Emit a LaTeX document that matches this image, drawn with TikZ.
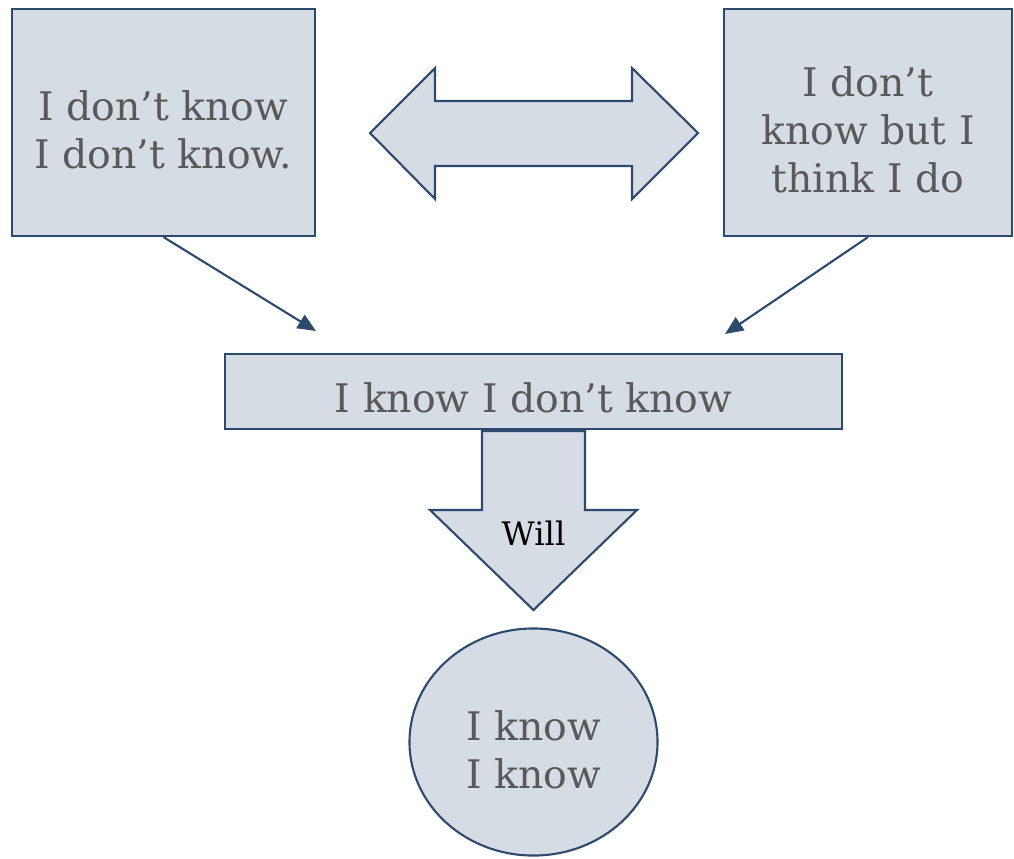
\documentclass[tikz,border=0pt]{standalone}
\usepackage{fontspec}
\setmainfont{DejaVu Serif}
\usepackage{tikz}
\usetikzlibrary{arrows.meta,shapes,positioning}
\usepackage{xcolor}
\definecolor{kbfill}{HTML}{D6DCE4}
\definecolor{kbline}{HTML}{2C4A6E}
\definecolor{kbtext}{HTML}{595959}
\tikzstyle{stagebox} = [rectangle, draw=kbline, fill=kbfill, line width=1.5pt]
\tikzstyle{stagetext} = [text=kbtext, align=center, font=\fontsize{28}{34}\selectfont]
\tikzstyle{blockarrow} = [draw=kbline, fill=kbfill, line width=1.5pt, line join=miter]
\tikzstyle{arrow} = [line width=1.5pt, color=kbline, -{Triangle[length=13pt, width=11pt]}]

\begin{document}
\begin{tikzpicture}[x=0.025cm, y=-0.025cm]
    \useasboundingbox (0,0) rectangle (1014,858);

    % Unconscious incompetence
    \node[stagebox, minimum width=7.575cm, minimum height=5.675cm] (unaware) at (163.5, 122.5) {};
    \node[stagetext] (unawaretext) at (163.5, 130) {I don’t know\\I don’t know.};

    % Overconfident
    \node[stagebox, minimum width=7.2cm, minimum height=5.675cm] (think) at (868, 122.5) {};
    \node[stagetext] (thinktext) at (868, 130) {I don’t\\know but I\\think I do};

    % Double arrow between the two
    \draw[blockarrow] (370,133) -- (435,68) -- (435,101) -- (632,101) -- (632,68) -- (698,133)
        -- (632,199) -- (632,166) -- (435,166) -- (435,199) -- cycle;

    % Conscious incompetence
    \node[stagebox, minimum width=15.425cm, minimum height=1.875cm] (aware) at (533.5, 391.5) {};
    \node[stagetext] (awaretext) at (533.5, 398) {I know I don’t know};
    \coordinate (inleft) at (316, 331);
    \coordinate (inright) at (725, 334);
    \draw[arrow] (unaware.south) -- (inleft);
    \draw[arrow] (think.south) -- (inright);

    % Down arrow
    \draw[blockarrow] (482,431) -- (585,431) -- (585,510) -- (637,510) -- (533.5,610) -- (430,510) -- (482,510) -- cycle;
    \node[font=\fontsize{23}{27}\selectfont] (will) at (533.5, 533) {Will};

    % Conscious competence
    \node[stagebox, ellipse, minimum width=6.2cm, minimum height=5.675cm] (know) at (533.5, 742) {};
    \node[stagetext] (knowtext) at (533.5, 750) {I know\\I know};
\end{tikzpicture}
\end{document}
